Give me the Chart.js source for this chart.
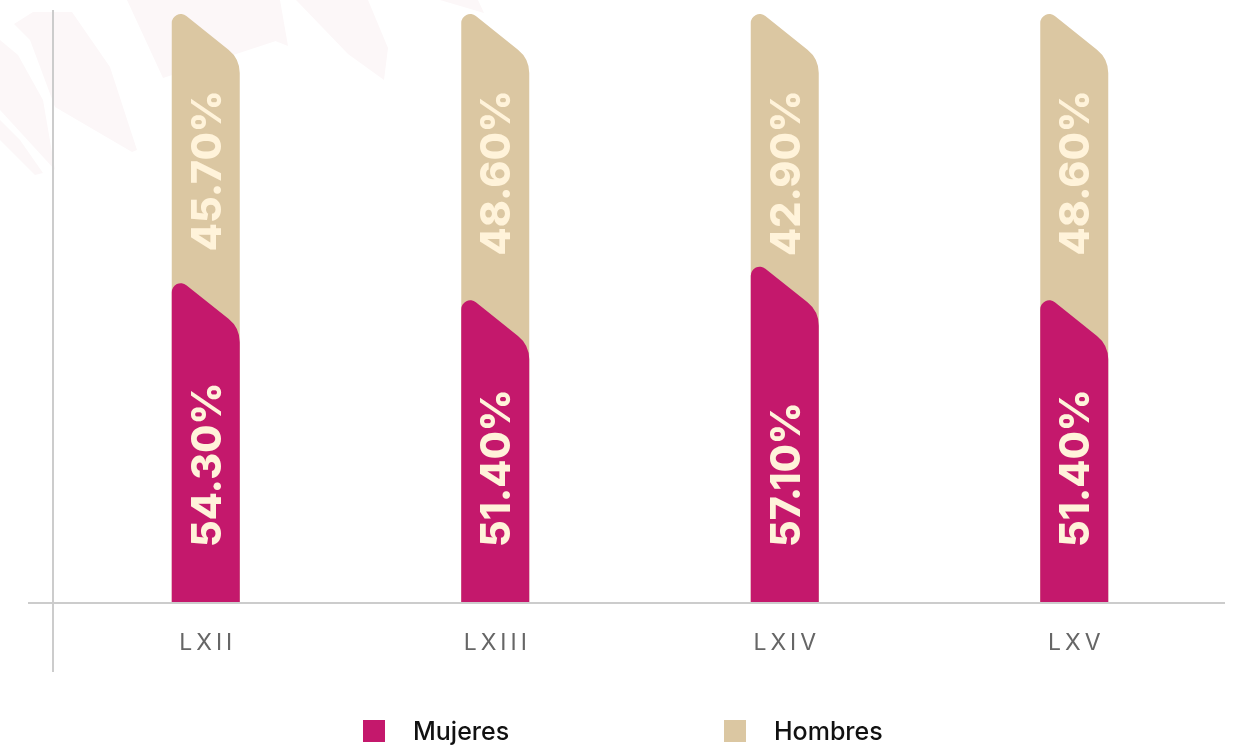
<!DOCTYPE html>
<html>
<head>
<meta charset="utf-8">
<script src="https://cdn.jsdelivr.net/npm/chart.js@4.4.1/dist/chart.umd.min.js"></script>
<style>
  body { margin: 0; background: #fff; }
  #wrap { position: relative; width: 1236px; height: 745px; overflow: hidden; }
  #legend { position: absolute; left: 0; top: 718px; width: 1236px; height: 27px; font-family: Inter, sans-serif; font-weight: 500; font-size: 25px; color: #111; }
  .item { position: absolute; top: 0; display: flex; align-items: center; height: 26px; }
  .box { width: 22px; height: 22px; margin-right: 28px; }
</style>
</head>
<body>
<div id="wrap">
  <canvas id="chart" width="1236" height="745"></canvas>
  <div id="legend"></div>
</div>
<script>
// legislaturas
var labels = ["LXII", "LXIII", "LXIV", "LXV"];
var mujeres = [54.3, 51.4, 57.1, 51.4];
var hombres = [45.7, 48.6, 42.9, 48.6];

var pink = "#c4186c";
var tan = "#dbc7a2";
var cream = "#fff3da";

function barShape(ctx, xl, xr, top, base) {
  var w = xr - xl;
  var drop = w * 0.8;
  var r1 = 9, r2 = 30;
  // lift the corner so the rounded top touches the value line
  var half = Math.atan2(w, drop) / 2;
  var lift = r1 / Math.tan(half) - r1;
  var t = top - lift;
  ctx.beginPath();
  ctx.moveTo(xl, base);
  ctx.lineTo(xl, t + r1 + lift);
  ctx.arcTo(xl, t, xr, t + drop, r1);
  ctx.arcTo(xr, t + drop, xr, base, r2);
  ctx.lineTo(xr, base);
  ctx.closePath();
  ctx.fill();
}

var shapedBars = {
  id: "shapedBars",
  beforeDatasetDraw: function(chart, args) {
    var ctx = chart.ctx;
    var zero = chart.scales.y.getPixelForValue(0);
    ctx.save();
    ctx.fillStyle = chart.data.datasets[args.index].backgroundColor;
    args.meta.data.forEach(function(el) {
      var p = el.getProps(["x", "y", "width", "base"], true);
      var base = args.index == 1 ? zero : p.base;
      barShape(ctx, p.x - p.width / 2, p.x + p.width / 2, p.y, base);
    });
    ctx.restore();
    return false;
  }
};

// faint leaves in the corner
var decor = {
  id: "decor",
  beforeDraw: function(chart) {
    var ctx = chart.ctx;
    var shapes = [
      [[14,24],[33,12],[72,12],[110,67],[137,150],[132,152],[55,107],[30,40]],
      [[0,40],[18,55],[43,100],[55,170],[0,110]],
      [[0,120],[20,140],[43,173],[35,175],[0,140]],
      [[127,0],[163,78],[285,38],[273,0]],
      [[200,0],[222,20],[288,46],[280,0]],
      [[296,0],[348,54],[384,80],[388,48],[368,0]],
      [[440,0],[484,13],[478,0]]
    ];
    ctx.save();
    ctx.fillStyle = "#fcf7f8";
    shapes.forEach(function(s) {
      ctx.beginPath();
      s.forEach(function(pt, i) { i ? ctx.lineTo(pt[0], pt[1]) : ctx.moveTo(pt[0], pt[1]); });
      ctx.closePath();
      ctx.fill();
    });
    ctx.restore();
  }
};

var axesAndLabels = {
  id: "axesAndLabels",
  afterDatasetsDraw: function(chart) {
    var ctx = chart.ctx;
    var a = chart.chartArea;
    var x = chart.scales.x, y = chart.scales.y;
    var zero = y.getPixelForValue(0);
    ctx.save();
    ctx.strokeStyle = "#cccccc";
    ctx.lineWidth = 2;
    ctx.beginPath();
    ctx.moveTo(a.left - 8, a.top - 4);
    ctx.lineTo(a.left - 8, zero + 69);
    ctx.moveTo(a.left - 33, zero);
    ctx.lineTo(a.right + 6, zero);
    ctx.stroke();

    // value labels, rotated
    ctx.fillStyle = cream;
    ctx.font = "800 41px Inter";
    chart.data.datasets.forEach(function(ds, di) {
      chart.getDatasetMeta(di).data.forEach(function(el, i) {
        var p = el.getProps(["x", "y", "base"], true);
        var txt = ds.data[i].toFixed(2) + "%";
        ctx.save();
        if (di == 0) {
          ctx.translate(p.x, zero - 56);
          ctx.textAlign = "left";
        } else {
          ctx.translate(p.x, p.y + 76);
          ctx.textAlign = "right";
        }
        ctx.rotate(-Math.PI / 2);
        ctx.textBaseline = "alphabetic";
        ctx.fillText(txt, 0, 15);
        ctx.restore();
      });
    });

    // category ticks
    ctx.fillStyle = "#666666";
    ctx.font = "23px Inter";
    ctx.letterSpacing = "4px";
    ctx.textAlign = "center";
    ctx.textBaseline = "middle";
    x.ticks.forEach(function(t, i) {
      ctx.fillText(labels[i], x.getPixelForTick(i) + 2, zero + 40);
    });
    ctx.restore();
  }
};

var chart = new Chart(document.getElementById("chart"), {
  type: "bar",
  data: {
    labels: labels,
    datasets: [
      { label: "Mujeres", data: mujeres, backgroundColor: pink },
      { label: "Hombres", data: hombres, backgroundColor: tan }
    ]
  },
  options: {
    responsive: false,
    animation: false,
    layout: { padding: { left: 61, right: 17, top: 14, bottom: 142 } },
    datasets: { bar: { barThickness: 68 } },
    scales: {
      x: { stacked: true, display: false },
      y: { stacked: true, display: false, min: 0, max: 100 }
    },
    plugins: {
      legend: { display: false },
      tooltip: { enabled: false }
    }
  },
  plugins: [decor, shapedBars, axesAndLabels]
});

// legend below the chart
var legendPos = [[363, "Mujeres", pink], [724, "Hombres", tan]];
var legend = document.getElementById("legend");
legendPos.forEach(function(l) {
  var d = document.createElement("div");
  d.className = "item";
  d.style.left = l[0] + "px";
  d.innerHTML = '<span class="box" style="background:' + l[2] + '"></span><span>' + l[1] + '</span>';
  legend.appendChild(d);
});
</script>
</body>
</html>
